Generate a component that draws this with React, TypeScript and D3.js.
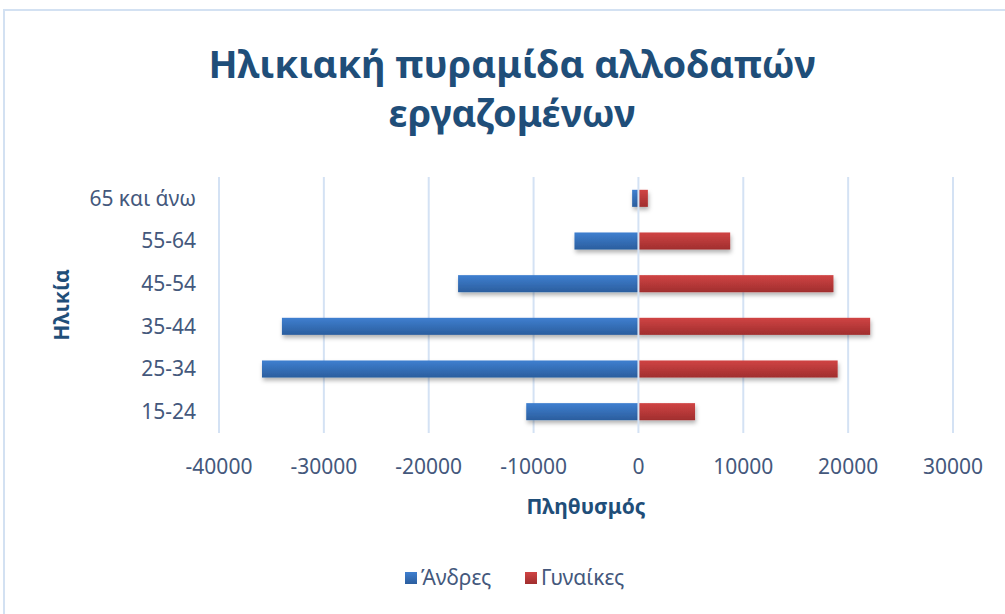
import { useEffect, useRef } from 'react'
import * as d3 from 'd3'

const ageGroups = ['15-24', '25-34', '35-44', '45-54', '55-64', '65 και άνω']
const men = [-10700, -35900, -34000, -17200, -6100, -600]
const women = [5400, 19000, 22100, 18600, 8750, 900]
const xTicks = [-40000, -30000, -20000, -10000, 0, 10000, 20000, 30000]
const seriesNames = ['Άνδρες', 'Γυναίκες']

const width = 1005
const height = 614

const App = () => {
  const svgRef = useRef<SVGSVGElement>(null)

  useEffect(() => {
    const svgEl = d3.select(svgRef.current)
    svgEl.selectAll('*').remove()

    const font = "'Noto Sans', sans-serif"
    const textColor = '#44587C'
    const titleColor = '#1F4E79'

    const plotLeft = 219
    const plotRight = 953
    const plotTop = 177
    const plotBottom = 433

    const xScale = d3.scaleLinear().domain([-40000, 30000]).range([plotLeft, plotRight])
    const yScale = d3
      .scaleBand()
      .domain([...ageGroups].reverse())
      .range([plotTop, plotBottom])
      .paddingInner(0.6)
      .paddingOuter(0.3)

    // gradients + shadow
    const defs = svgEl.append('defs')
    const grads = [
      { id: 'gradMen', top: '#3F7FD0', bottom: '#2B5E9E' },
      { id: 'gradWomen', top: '#D04444', bottom: '#A02E2E' },
    ]
    grads.forEach((g) => {
      const lg = defs
        .append('linearGradient')
        .attr('id', g.id)
        .attr('x1', 0)
        .attr('y1', 0)
        .attr('x2', 0)
        .attr('y2', 1)
      lg.append('stop').attr('offset', '0%').attr('stop-color', g.top)
      lg.append('stop').attr('offset', '100%').attr('stop-color', g.bottom)
    })
    defs
      .append('filter')
      .attr('id', 'shadow')
      .attr('x', '-10%')
      .attr('y', '-30%')
      .attr('width', '120%')
      .attr('height', '180%')
      .append('feDropShadow')
      .attr('dx', 1)
      .attr('dy', 3)
      .attr('stdDeviation', 2)
      .attr('flood-color', '#000')
      .attr('flood-opacity', 0.3)

    // chart frame
    svgEl
      .append('rect')
      .attr('x', 4)
      .attr('y', 10)
      .attr('width', width + 20)
      .attr('height', height + 20)
      .attr('fill', '#fff')
      .attr('stroke', '#D3E1F2')
      .attr('stroke-width', 2)

    // title
    const title = svgEl
      .append('text')
      .attr('text-anchor', 'middle')
      .style('font-family', font)
      .style('font-weight', '700')
      .style('font-size', '38px')
      .style('fill', titleColor)
    title.append('tspan').attr('x', 512).attr('y', 78).text('Ηλικιακή πυραμίδα αλλοδαπών')
    title.append('tspan').attr('x', 512).attr('y', 127).text('εργαζομένων')

    // grid lines
    svgEl
      .append('g')
      .selectAll('line')
      .data(xTicks.filter((t) => t !== 0))
      .join('line')
      .attr('x1', (d) => xScale(d))
      .attr('x2', (d) => xScale(d))
      .attr('y1', plotTop)
      .attr('y2', plotBottom)
      .attr('stroke', '#D4E2F4')
      .attr('stroke-width', 2)

    // bars
    const bars = [
      { values: men, fill: 'url(#gradMen)' },
      { values: women, fill: 'url(#gradWomen)' },
    ]
    bars.forEach((s) => {
      svgEl
        .append('g')
        .attr('filter', 'url(#shadow)')
        .selectAll('rect')
        .data(s.values)
        .join('rect')
        .attr('x', (d) => Math.min(xScale(d), xScale(0)))
        .attr('width', (d) => Math.abs(xScale(d) - xScale(0)))
        .attr('y', (d, i) => yScale(ageGroups[i]) as number)
        .attr('height', yScale.bandwidth())
        .attr('fill', s.fill)
    })

    // zero axis line
    svgEl
      .append('line')
      .attr('x1', xScale(0))
      .attr('x2', xScale(0))
      .attr('y1', plotTop)
      .attr('y2', plotBottom)
      .attr('stroke', '#D4E2F4')
      .attr('stroke-width', 2)

    // y labels
    svgEl
      .append('g')
      .selectAll('text')
      .data(ageGroups)
      .join('text')
      .attr('x', 196)
      .attr('y', (d) => (yScale(d) as number) + yScale.bandwidth() / 2)
      .attr('dy', '0.35em')
      .attr('text-anchor', 'end')
      .style('font-family', font)
      .style('font-size', '21px')
      .style('fill', textColor)
      .text((d) => d)

    // x labels (plain hyphen like the source)
    svgEl
      .append('g')
      .selectAll('text')
      .data(xTicks)
      .join('text')
      .attr('x', (d) => xScale(d))
      .attr('y', 467)
      .attr('dy', '0.35em')
      .attr('text-anchor', 'middle')
      .style('font-family', font)
      .style('font-size', '21px')
      .style('fill', textColor)
      .text((d) => String(d))

    // axis titles
    svgEl
      .append('text')
      .attr('x', (plotLeft + plotRight) / 2)
      .attr('y', 507)
      .attr('dy', '0.35em')
      .attr('text-anchor', 'middle')
      .style('font-family', font)
      .style('font-weight', '700')
      .style('font-size', '21px')
      .style('fill', titleColor)
      .text('Πληθυσμός')
    svgEl
      .append('text')
      .attr('transform', `translate(62,${(plotTop + plotBottom) / 2}) rotate(-90)`)
      .attr('dy', '0.35em')
      .attr('text-anchor', 'middle')
      .style('font-family', font)
      .style('font-weight', '700')
      .style('font-size', '21px')
      .style('fill', titleColor)
      .text('Ηλικία')

    // legend
    const legendX = [405, 525]
    const legend = svgEl
      .append('g')
      .selectAll('g')
      .data(seriesNames)
      .join('g')
      .attr('transform', (d, i) => `translate(${legendX[i]},578)`)
    legend
      .append('rect')
      .attr('x', 0)
      .attr('y', -6)
      .attr('width', 12)
      .attr('height', 12)
      .attr('fill', (d, i) => bars[i].fill)
    legend
      .append('text')
      .attr('x', 16)
      .attr('dy', '0.35em')
      .style('font-family', font)
      .style('font-size', '21px')
      .style('fill', textColor)
      .text((d) => d)
  }, [])

  return (
    <svg
      ref={svgRef}
      width={width}
      height={height}
      style={{ position: 'absolute', left: 0, top: 0 }}
    />
  )
}

export default App
